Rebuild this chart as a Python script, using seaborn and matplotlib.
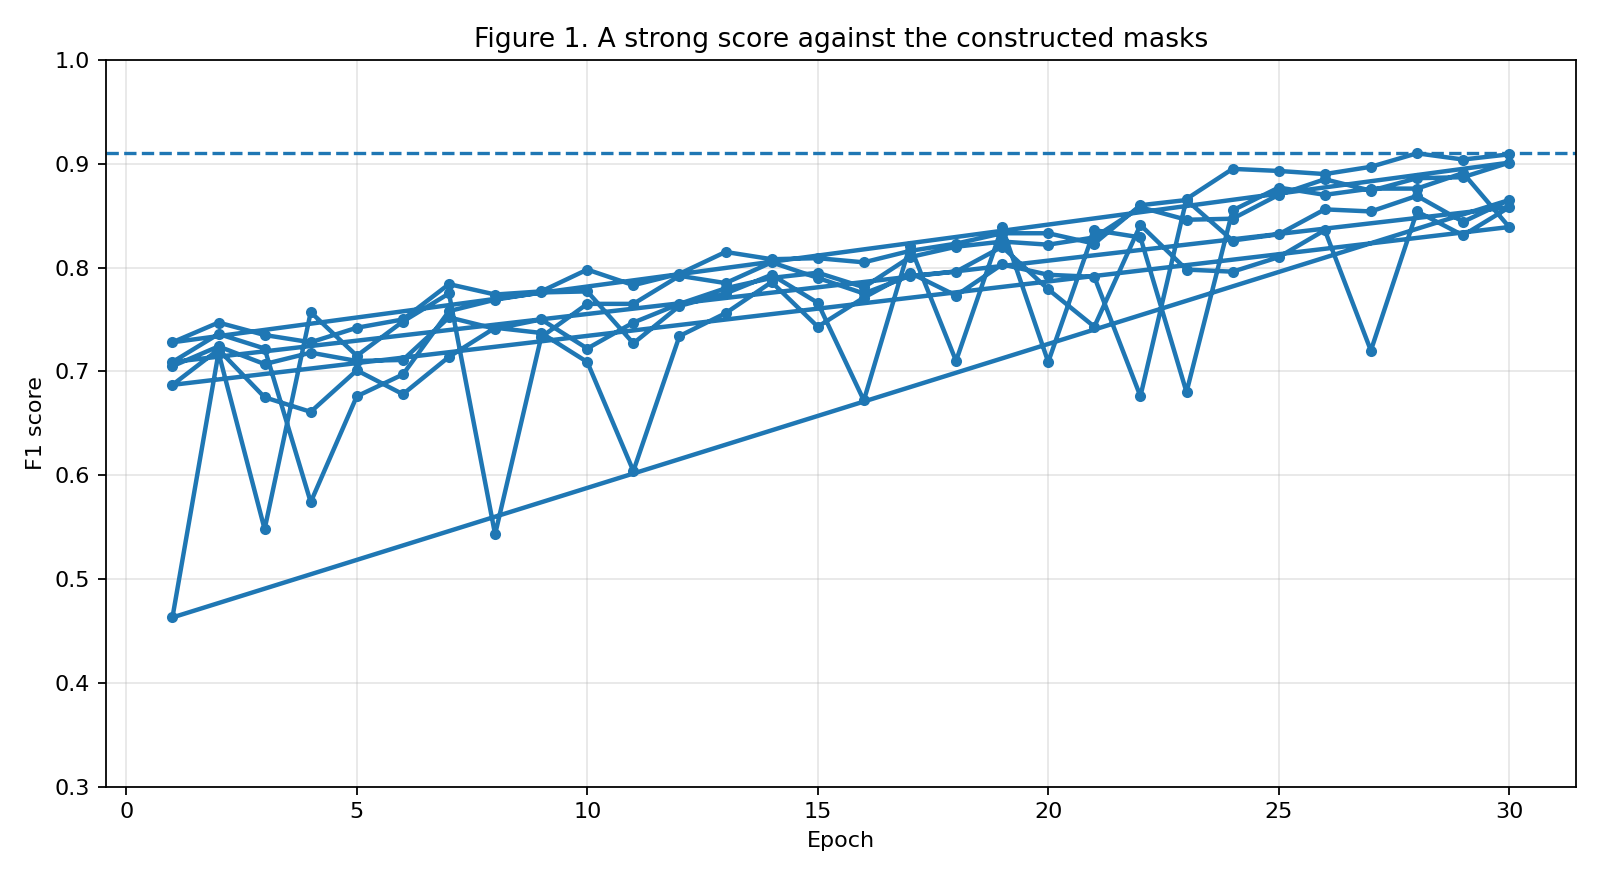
import pandas as pd
import matplotlib
matplotlib.use('Agg')
import matplotlib.pyplot as plt
import seaborn as sns

# F1 per epoch for five runs
epochs = list(range(1, 31))
run1 = [0.705, 0.724, 0.707, 0.718, 0.710, 0.711, 0.752, 0.741, 0.750, 0.722,
        0.747, 0.765, 0.780, 0.790, 0.795, 0.781, 0.810, 0.820, 0.825, 0.822,
        0.829, 0.858, 0.846, 0.847, 0.870, 0.885, 0.874, 0.886, 0.887, 0.901]
run2 = [0.728, 0.747, 0.735, 0.728, 0.742, 0.750, 0.784, 0.774, 0.777, 0.798,
        0.783, 0.794, 0.815, 0.808, 0.809, 0.805, 0.816, 0.823, 0.833, 0.833,
        0.823, 0.860, 0.865, 0.826, 0.832, 0.856, 0.854, 0.869, 0.844, 0.865]
run3 = [0.463, 0.718, 0.548, 0.757, 0.715, 0.748, 0.775, 0.543, 0.733, 0.765,
        0.765, 0.792, 0.785, 0.805, 0.790, 0.775, 0.792, 0.796, 0.820, 0.779,
        0.743, 0.841, 0.798, 0.796, 0.810, 0.836, 0.720, 0.854, 0.831, 0.858]
run4 = [0.709, 0.736, 0.722, 0.574, 0.676, 0.697, 0.758, 0.769, 0.776, 0.777,
        0.727, 0.763, 0.775, 0.793, 0.766, 0.672, 0.821, 0.710, 0.839, 0.709,
        0.836, 0.829, 0.680, 0.855, 0.877, 0.870, 0.876, 0.876, 0.891, 0.839]
run5 = [0.687, 0.721, 0.675, 0.661, 0.701, 0.678, 0.714, 0.742, 0.737, 0.709,
        0.604, 0.734, 0.756, 0.786, 0.743, 0.771, 0.795, 0.773, 0.803, 0.793,
        0.791, 0.676, 0.866, 0.895, 0.893, 0.890, 0.897, 0.910, 0.904, 0.909]
best_score = 0.91

runs = [run1, run2, run3, run4, run5]
df = pd.DataFrame({
    'Epoch': epochs * len(runs),
    'F1 score': [v for r in runs for v in r],
})

fig, ax = plt.subplots(figsize=(10, 5.5), dpi=160)
sns.lineplot(data=df, x='Epoch', y='F1 score', sort=False, estimator=None,
             marker='o', color='#1f77b4', linewidth=2, markersize=5,
             markeredgecolor='#1f77b4', markeredgewidth=0, ax=ax)
ax.axhline(best_score, color='#1f77b4', linestyle='--', linewidth=1.5)

ax.set_ylim(0.3, 1.0)
ax.set_title('Figure 1. A strong score against the constructed masks')
ax.set_xlabel('Epoch')
ax.set_ylabel('F1 score')
ax.grid(True, alpha=0.3)

plt.subplots_adjust(left=0.066, right=0.985, top=0.932, bottom=0.106)
plt.savefig('out.png', dpi=160)
